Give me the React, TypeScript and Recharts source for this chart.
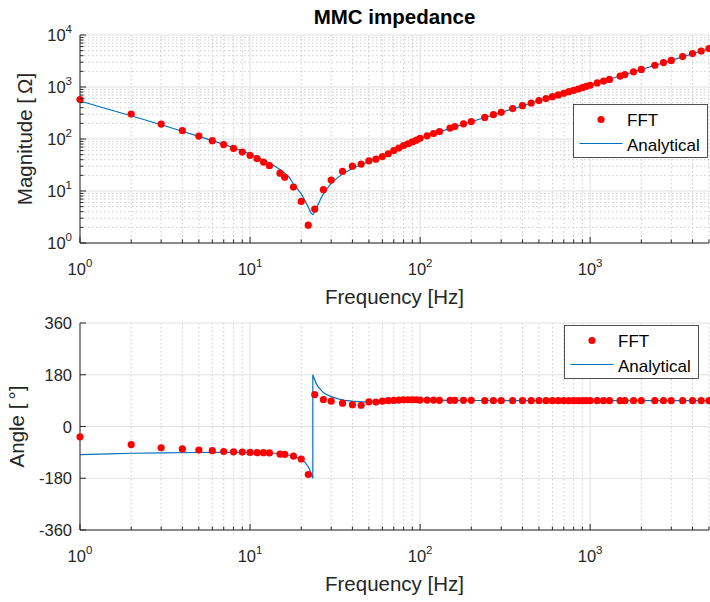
import React from 'react';
import { ComposedChart, Line, Scatter, XAxis, YAxis, CartesianGrid } from 'recharts';

const FONT = '"Liberation Sans", Arial, Helvetica, sans-serif';
const AX = '#262626';
const RED = '#ff0000';
const BLUE = '#0072bd';

// ---- data ----
const fftFreq = [1, 2, 3, 4, 5, 6, 7, 8, 9, 10, 11, 12, 13, 15, 16, 18, 20, 22, 24, 27, 30, 35, 40, 45,
  50, 55, 60, 65, 70, 75, 80, 85, 90, 95, 100, 110, 120, 130, 150, 160, 180, 200, 240, 270, 300, 350,
  400, 450, 500, 550, 600, 650, 700, 750, 800, 850, 900, 950, 1000, 1100, 1200, 1300, 1500, 1600, 1800, 2000,
  2400, 2700, 3000, 3500, 4000, 4500, 5000];
const fftMagnitude = [575, 302, 194, 145, 114, 93, 78, 66, 56, 48.5, 42, 36, 30.7, 22, 18.3, 11.9, 6.3, 2.2, 4.5, 10.6, 16.2, 24, 30, 33,
  38, 41, 46, 52, 60, 67, 75, 81, 88, 95, 103, 115, 127, 139, 162, 174, 196, 216, 260, 293, 326, 385,
  437, 492, 548, 600, 652, 705, 758, 812, 865, 915, 970, 1030, 1080, 1200, 1300, 1400, 1620, 1730, 1960, 2180,
  2620, 2950, 3250, 3850, 4400, 4900, 5500];
const fftAngle = [-36, -63, -74, -78, -82, -84, -87, -88, -89, -90, -91, -91, -92, -96, -97, -103, -113, -167, 111, 94, 88, 81, 76, 74,
  86, 85, 88, 90, 91, 92, 93, 93, 93, 93, 92, 92, 92, 91, 91, 91, 91, 91, 90, 90, 90, 90,
  90, 90, 90, 90, 90, 90, 90, 90, 90, 90, 90, 90, 90, 90, 90, 90, 90, 90, 90, 90,
  90, 90, 90, 90, 90, 90, 90];

const anaMagFreq = [1, 1.5, 2, 3, 4, 5, 6, 7, 8, 9, 10, 11, 12, 13, 14, 15, 16, 17, 18, 19, 20, 21, 22, 22.8, 23.4, 24, 25, 26, 27, 28, 30, 33, 36, 40, 45,
  50, 60, 70, 80, 90, 100, 150, 200, 300, 500, 700, 1000, 1500, 2000, 3000, 4000, 5000];
const anaMagnitude = [538, 365, 280, 188, 141, 112, 93, 79, 68, 59, 51, 45, 39.5, 34.5, 30, 26, 22, 18.5, 13.5, 11, 8.8, 6.6, 4.9, 3.8, 3.5, 3.9, 5.3, 7, 8.8, 10.5, 14, 18.5, 22.5, 27, 32,
  37, 46, 58, 75, 88, 102, 160, 215, 325, 545, 760, 1085, 1630, 2175, 3260, 4350, 5450];

const anaAngFreq = [1, 1.5, 2, 3, 5, 7, 10, 12, 14, 16, 17, 18, 19, 20, 21, 22, 22.5, 23, 23.4, 23.4, 23.8, 24.5, 25, 26, 27, 28, 30, 33, 36, 40,
  45, 50, 55, 60, 70, 80, 90, 100, 150, 200, 500, 1000, 5000];
const anaAngle = [-98, -95, -93, -91.5, -90.5, -90, -90.5, -91.5, -93, -97, -100, -104, -109, -115, -124, -140, -152, -168, -180, 180, 168, 150, 140, 128, 118, 112, 104, 96, 91, 88,
  86, 86, 87, 88, 90, 91, 91.5, 91.5, 91, 90.5, 90, 90, 90];

// ---- ticks ----
const xMajor = [1, 10, 100, 1000];
const xMinor = [2, 3, 4, 5, 6, 7, 8, 9, 20, 30, 40, 50, 60, 70, 80, 90, 200, 300, 400, 500, 600, 700, 800, 900, 2000, 3000, 4000, 5000];
const yMagMajor = [1, 10, 100, 1000, 10000];
const yMagMinor = [2, 3, 4, 5, 6, 7, 8, 9, 20, 30, 40, 50, 60, 70, 80, 90, 200, 300, 400, 500, 600, 700, 800, 900,
  2000, 3000, 4000, 5000, 6000, 7000, 8000, 9000];
const yAngMajor = [-360, -180, 0, 180, 360];

const fftMagData = fftFreq.map((f, i) => ({ f, v: fftMagnitude[i] }));
const fftAngData = fftFreq.map((f, i) => ({ f, v: fftAngle[i] }));
const anaMagData = anaMagFreq.map((f, i) => ({ f, v: anaMagnitude[i] }));
const anaAngData = anaAngFreq.map((f, i) => ({ f, v: anaAngle[i] }));

const MAJOR_GRID = '#e1e1e1';
const MINOR_GRID = '#cdcdcd';

const XTick = (props: any) => {
  const { x, y, payload } = props;
  const v = payload.value;
  const major = xMajor.includes(v);
  const len = major ? 6 : 3.5;
  const exp = Math.round(Math.log10(v));
  return (
    <g>
      <line x1={x} y1={y} x2={x} y2={y - len} stroke={AX} strokeWidth={1} />
      {major && (
        <text x={x} y={y + 32} textAnchor="middle" fontFamily={FONT} fontSize={16.5} fill={AX}>
          10<tspan dy={-8} fontSize={11.5}>{exp}</tspan>
        </text>
      )}
    </g>
  );
};

const YLogTick = (props: any) => {
  const { x, y, payload } = props;
  const v = payload.value;
  const major = yMagMajor.includes(v);
  const len = major ? 6 : 3.5;
  const exp = Math.round(Math.log10(v));
  return (
    <g>
      <line x1={x} y1={y} x2={x + len} y2={y} stroke={AX} strokeWidth={1} />
      {major && (
        <text x={x - 8} y={y + 6} textAnchor="end" fontFamily={FONT} fontSize={16.5} fill={AX}>
          10<tspan dy={-8} fontSize={11.5}>{exp}</tspan>
        </text>
      )}
    </g>
  );
};

const YLinTick = (props: any) => {
  const { x, y, payload } = props;
  return (
    <g>
      <line x1={x} y1={y} x2={x + 6} y2={y} stroke={AX} strokeWidth={1} />
      <text x={x - 8} y={y + 6} textAnchor="end" fontFamily={FONT} fontSize={16.5} fill={AX}>
        {payload.value}
      </text>
    </g>
  );
};

const Dot = (props: any) => {
  const { cx, cy } = props;
  if (cx == null || cy == null) return null;
  return <circle cx={cx} cy={cy} r={3.6} fill={RED} />;
};

const LegendBox = ({ x, y }: { x: number; y: number }) => (
  <g>
    <rect x={x} y={y} width={134} height={53} fill="#fff" stroke={AX} strokeWidth={0.8} />
    <circle cx={x + 27.5} cy={y + 15} r={3.6} fill={RED} />
    <text x={x + 53.5} y={y + 21.5} fontFamily={FONT} fontSize={17} fill="#000">FFT</text>
    <line x1={x + 6} y1={y + 39} x2={x + 49} y2={y + 39} stroke={BLUE} strokeWidth={1.2} />
    <text x={x + 53.5} y={y + 46} fontFamily={FONT} fontSize={17} fill="#000">Analytical</text>
  </g>
);

export default function App() {
  return (
    <div style={{ position: 'absolute', left: 0, top: 0, width: 710, height: 602, background: '#fff', overflow: 'hidden' }}>
      <div style={{ position: 'absolute', left: 0, top: 0 }}>
        <ComposedChart width={710} height={300} margin={{ top: 35, right: 1, bottom: 0, left: 0 }}>
          <CartesianGrid verticalValues={xMinor} horizontalValues={yMagMinor} stroke={MINOR_GRID} strokeDasharray="1.5 2.5" />
          <CartesianGrid verticalValues={xMajor} horizontalValues={yMagMajor} stroke={MAJOR_GRID} />
          <XAxis dataKey="f" type="number" scale="log" domain={[1, 5000]} ticks={[...xMajor, ...xMinor]} interval={0}
            height={57} tickSize={0} tickMargin={0} tick={<XTick />} axisLine={{ stroke: AX }} />
          <YAxis type="number" scale="log" domain={[1, 10000]} ticks={[...yMagMajor, ...yMagMinor]} interval={0}
            width={80} tickSize={0} tickMargin={0} tick={<YLogTick />} axisLine={{ stroke: AX }} />
          <Scatter data={fftMagData} dataKey="v" shape={<Dot />} isAnimationActive={false} />
          <Line data={anaMagData} dataKey="v" type="linear" stroke={BLUE} strokeWidth={1.2} dot={false} isAnimationActive={false} />
        </ComposedChart>
      </div>
      <div style={{ position: 'absolute', left: 0, top: 300 }}>
        <ComposedChart width={710} height={302} margin={{ top: 23, right: 1, bottom: 0, left: 0 }}>
          <CartesianGrid verticalValues={xMinor} horizontal={false} stroke={MINOR_GRID} strokeDasharray="1.5 2.5" />
          <CartesianGrid verticalValues={xMajor} horizontalValues={yAngMajor} stroke={MAJOR_GRID} />
          <XAxis dataKey="f" type="number" scale="log" domain={[1, 5000]} ticks={[...xMajor, ...xMinor]} interval={0}
            height={72} tickSize={0} tickMargin={0} tick={<XTick />} axisLine={{ stroke: AX }} />
          <YAxis type="number" domain={[-360, 360]} ticks={yAngMajor} interval={0}
            width={80} tickSize={0} tickMargin={0} tick={<YLinTick />} axisLine={{ stroke: AX }} />
          <Scatter data={fftAngData} dataKey="v" shape={<Dot />} isAnimationActive={false} />
          <Line data={anaAngData} dataKey="v" type="linear" stroke={BLUE} strokeWidth={1.2} dot={false} isAnimationActive={false} />
        </ComposedChart>
      </div>
      <svg width={710} height={602} style={{ position: 'absolute', left: 0, top: 0, pointerEvents: 'none' }}>
        <text x={394.5} y={24} textAnchor="middle" fontFamily={FONT} fontSize={20.5} fontWeight="bold" fill="#000">MMC impedance</text>
        <text x={394.5} y={304} textAnchor="middle" fontFamily={FONT} fontSize={20.5} fill={AX}>Frequency [Hz]</text>
        <text x={394.5} y={591} textAnchor="middle" fontFamily={FONT} fontSize={20.5} fill={AX}>Frequency [Hz]</text>
        <text transform="translate(31.5,139) rotate(-90)" textAnchor="middle" fontFamily={FONT} fontSize={20.5} fill={AX}>Magnitude [{'\u2009'}Ω]</text>
        <text transform="translate(24,426.5) rotate(-90)" textAnchor="middle" fontFamily={FONT} fontSize={20.5} fill={AX}>Angle [{'\u2009'}°]</text>
        <LegendBox x={573.5} y={104.5} />
        <LegendBox x={564.5} y={325.5} />
      </svg>
    </div>
  );
}
